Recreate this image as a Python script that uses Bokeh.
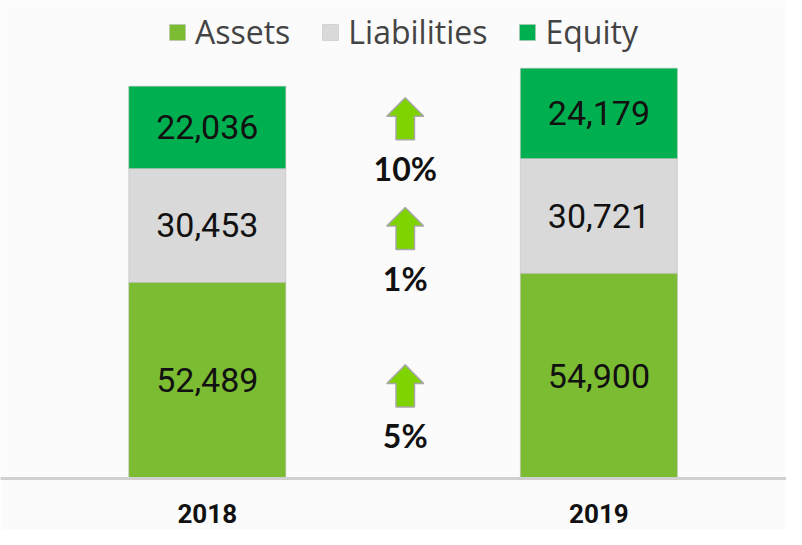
from bokeh.plotting import figure
from bokeh.models import ColumnDataSource, Range1d, Legend, LegendItem, FixedTicker
from bokeh.core.properties import value
from bokeh.embed import file_html
from bokeh.resources import INLINE

years = ["2018", "2019"]
assets = [52489, 54900]
liabilities = [30453, 30721]
equity = [22036, 24179]
series = ["Assets", "Liabilities", "Equity"]
change_labels = ["5%", "1%", "10%"]          # Assets, Liabilities, Equity
arrow_top = [30400, 72500, 101900]           # data-y of each arrow tip

colors = ["#7cbc32", "#d9d9d9", "#00b050"]
BG = "#fbfbfb"

W, H = 786, 529
FRAME_H = 477.5
X0, X1 = -0.528, 1.479
YMAX = 127900
x_pos = [0, 1]
p = figure(width=W, height=H, output_backend="svg", toolbar_location=None,
           x_range=Range1d(X0, X1), y_range=Range1d(0, YMAX),
           min_border_left=0, min_border_right=0, min_border_top=0,
           min_border_bottom=int(H - FRAME_H),
           background_fill_color=BG, border_fill_color=BG, outline_line_color=None)

src = ColumnDataSource(dict(x=x_pos, Assets=assets, Liabilities=liabilities, Equity=equity))
rs = p.vbar_stack(series, x="x", width=0.401, source=src, color=colors,
                  line_color="#bcbcbc", line_alpha=0.5, line_width=1)

# segment labels
lx, ly, lt = [], [], []
for i in range(len(years)):
    base = 0
    for vals in (assets, liabilities, equity):
        v = vals[i]
        lx.append(x_pos[i]); ly.append(base + v / 2); lt.append(f"{v:,}")
        base += v
p.text(x=lx, y=ly, text=lt, text_font=value("Roboto"), text_font_size="34px",
       text_align="center", text_baseline="middle", text_color="#111111")

# change arrows
px_x = (X1 - X0) / W
px_y = YMAX / FRAME_H
ax = 0.5055
xs, ys = [], []
for top in arrow_top:
    hw, sw, hh, th = 18.5, 9.25, 18.5, 42
    xs.append([ax, ax + hw * px_x, ax + sw * px_x, ax + sw * px_x,
               ax - sw * px_x, ax - sw * px_x, ax - hw * px_x])
    ys.append([top, top - hh * px_y, top - hh * px_y, top - th * px_y,
               top - th * px_y, top - hh * px_y, top - hh * px_y])
p.patches(xs, ys, fill_color="#7fd300", line_color="#a8a8a8", line_width=1.5)
p.text(x=[ax] * 3, y=[t - 71 * px_y for t in arrow_top], text=change_labels,
       text_font=value("Lato"), text_font_style="bold", text_font_size="32px",
       text_align="center", text_baseline="middle", text_color="#111111")

legend = Legend(items=[LegendItem(label=s, renderers=[r]) for s, r in zip(series, rs)],
                orientation="horizontal", location=(167, 425),
                label_text_font="Open Sans", label_text_font_size="32px",
                glyph_width=20, glyph_height=20, label_standoff=8, spacing=30,
                padding=0, margin=0, border_line_color=None, background_fill_alpha=0)
p.add_layout(legend)

p.xgrid.visible = False
p.ygrid.visible = False
p.yaxis.visible = False
p.xaxis.ticker = FixedTicker(ticks=x_pos)
p.xaxis.major_label_overrides = {x: y for x, y in zip(x_pos, years)}
p.xaxis.major_tick_line_color = None
p.xaxis.minor_tick_line_color = None
p.xaxis.axis_line_color = "#d0d0d0"
p.xaxis.axis_line_width = 3
p.xaxis.major_label_text_font = "Roboto"
p.xaxis.major_label_text_font_style = "bold"
p.xaxis.major_label_text_font_size = "26px"
p.xaxis.major_label_text_color = "#111111"
p.xaxis.major_label_standoff = 19

open("out.html", "w").write(file_html(p, INLINE))
